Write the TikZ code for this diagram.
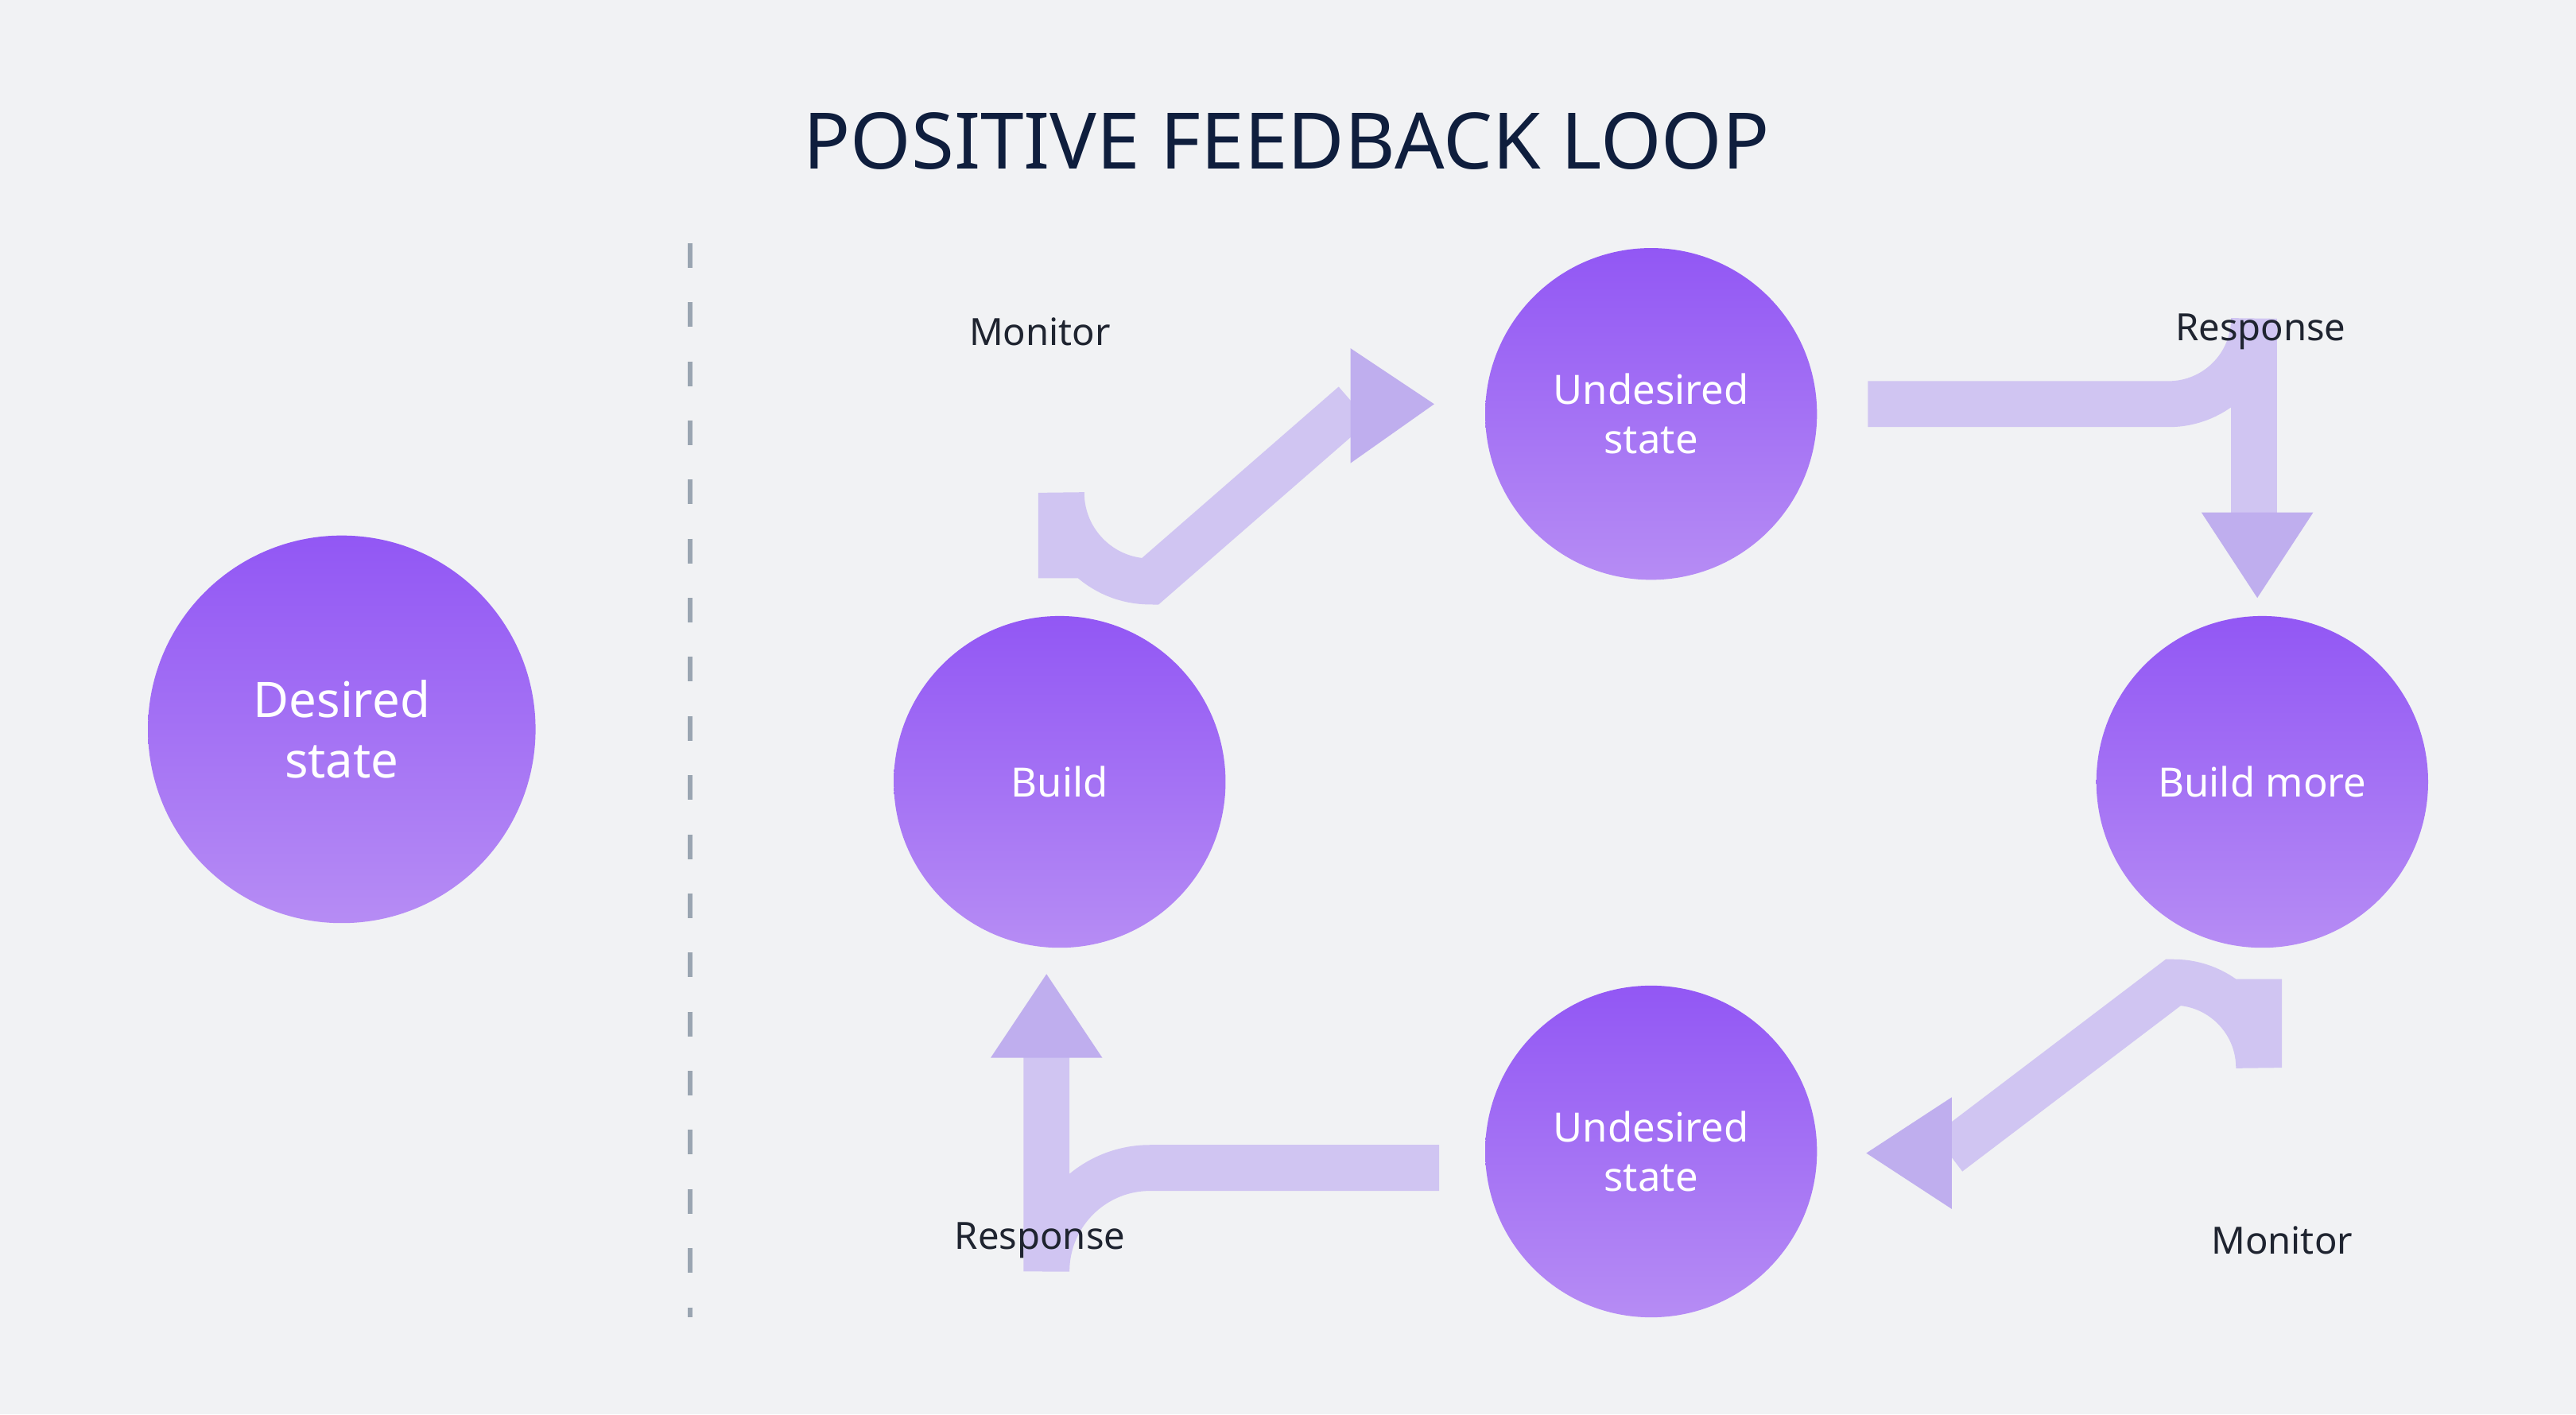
\documentclass[tikz,border=0pt]{standalone}
\usepackage{fontspec}
\setmainfont{Noto Sans}
\begin{document}
\begin{tikzpicture}[x=0.02cm,y=-0.02cm,
 circ/.style={circle,draw=none,top color=cTop,bottom color=cBot,text=white,font=\bfseries\fontsize{14}{17}\selectfont,align=center},
 band/.style={line width=0.56cm,draw=bandC},
 head/.style={fill=bandD,draw=none},
 lab/.style={font=\bfseries\fontsize{13}{16}\selectfont,text=labC}]
\definecolor{bgC}{HTML}{F1F2F4}
\definecolor{cTop}{HTML}{9257F4}
\definecolor{cBot}{HTML}{B68CF4}
\definecolor{bandC}{HTML}{D0C5F2}
\definecolor{bandD}{HTML}{BFAEEE}
\definecolor{labC}{HTML}{1F2430}
\definecolor{titleC}{HTML}{0F1E3D}
\definecolor{dashC}{HTML}{9AA5B1}
\fill[bgC] (0,0) rectangle (1568,861);
\useasboundingbox (0,0) rectangle (1568,861);
\node[font=\bfseries\fontsize{27}{32}\selectfont,text=titleC] (t) at (783,86) {POSITIVE FEEDBACK LOOP};
\coordinate (d1) at (420,148); \coordinate (d2) at (420,802);
\draw[draw=dashC,line width=0.06cm,dash pattern=on 0.3cm off 0.42cm] (d1) -- (d2);
% arrows
\draw[band] (646,352) -- (646,300) arc[start angle=180,end angle=90,radius=54] -- (824,246);
\path[head] (822,212) -- (873,246) -- (822,282) -- cycle;
\draw[band] (1137,246) -- (1320,246) arc[start angle=90,end angle=0,radius=52] -- (1372,314);
\path[head] (1340,312) -- (1408,312) -- (1374,364) -- cycle;
\draw[band] (1375,596) -- (1375,650) arc[start angle=0,end angle=-90,radius=52] -- (1186,702);
\path[head] (1188,668) -- (1188,736) -- (1136,702) -- cycle;
\draw[band] (876,711) -- (700,711) arc[start angle=270,end angle=180,radius=63] -- (637,642);
\path[head] (603,644) -- (671,644) -- (637,593) -- cycle;
% circles
\node[circ,minimum size=4.72cm,font=\bfseries\fontsize{17}{21}\selectfont] (ds) at (208,444) {Desired\\state};
\node[circ,minimum size=4.04cm] (b) at (645,476) {Build};
\node[circ,minimum size=4.04cm] (ut) at (1005,252) {Undesired\\state};
\node[circ,minimum size=4.04cm] (bm) at (1377,476) {Build more};
\node[circ,minimum size=4.04cm] (ub) at (1005,701) {Undesired\\state};
\node[lab] (l1) at (633,202) {Monitor};
\node[lab] (l2) at (1376,202) {Response};
\node[lab] (l3) at (633,755) {Response};
\node[lab] (l4) at (1389,755) {Monitor};
\end{tikzpicture}
\end{document}
